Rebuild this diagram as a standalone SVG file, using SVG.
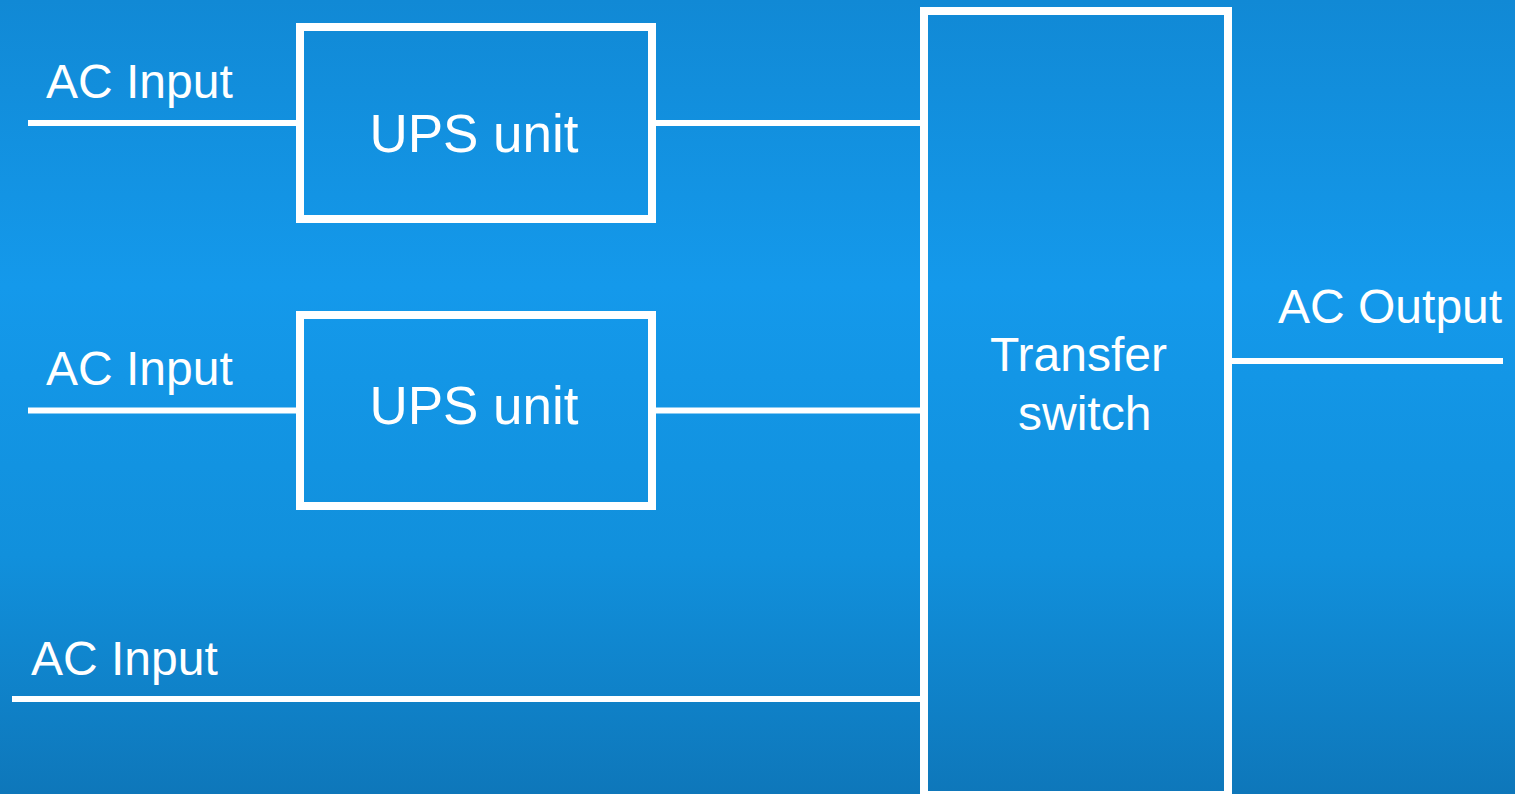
<svg xmlns="http://www.w3.org/2000/svg" width="1515" height="794" viewBox="0 0 1515 794">
  <defs>
    <linearGradient id="bg" x1="0" y1="0" x2="0" y2="1">
      <stop offset="0" stop-color="#1189d5"/>
      <stop offset="0.36" stop-color="#1499eb"/>
      <stop offset="0.7" stop-color="#1190dc"/>
      <stop offset="1" stop-color="#0e77ba"/>
    </linearGradient>
    <style>
      .box { fill: none; stroke: #ffffff; stroke-width: 8; }
      .wire { stroke: #ffffff; stroke-width: 6; fill: none; }
      .lbl { fill: #ffffff; font-family: "Liberation Sans", Arial, sans-serif; font-size: 48px; }
      .unit { fill: #ffffff; font-family: "Liberation Sans", Arial, sans-serif; font-size: 53px; text-anchor: middle; }
    </style>
  </defs>

  <rect x="0" y="0" width="1515" height="794" fill="url(#bg)"/>

  <!-- wiring between inputs, UPS units, transfer switch and output -->
  <g id="connectors">
    <line class="wire" x1="28" y1="123" x2="300" y2="123"/>
    <line class="wire" x1="652" y1="123" x2="924" y2="123"/>
    <line class="wire" x1="28" y1="410.5" x2="300" y2="410.5"/>
    <line class="wire" x1="652" y1="410.5" x2="924" y2="410.5"/>
    <line class="wire" x1="12" y1="699" x2="924" y2="699"/>
    <line class="wire" x1="1228" y1="361" x2="1503" y2="361"/>
  </g>

  <g id="ups-unit-1">
    <rect class="box" x="300" y="27" width="352" height="192"/>
    <text class="unit" x="474" y="152">UPS unit</text>
  </g>

  <g id="ups-unit-2">
    <rect class="box" x="300" y="315" width="352" height="191"/>
    <text class="unit" x="474" y="424">UPS unit</text>
  </g>

  <g id="transfer-switch">
    <rect class="box" x="924" y="11" width="304" height="784"/>
    <text class="lbl" x="990" y="371">Transfer</text>
    <text class="lbl" x="1018" y="430">switch</text>
  </g>

  <g id="labels">
    <text class="lbl" x="46" y="98">AC Input</text>
    <text class="lbl" x="46" y="385">AC Input</text>
    <text class="lbl" x="31" y="675">AC Input</text>
    <text class="lbl" x="1278" y="323">AC Output</text>
  </g>
</svg>
